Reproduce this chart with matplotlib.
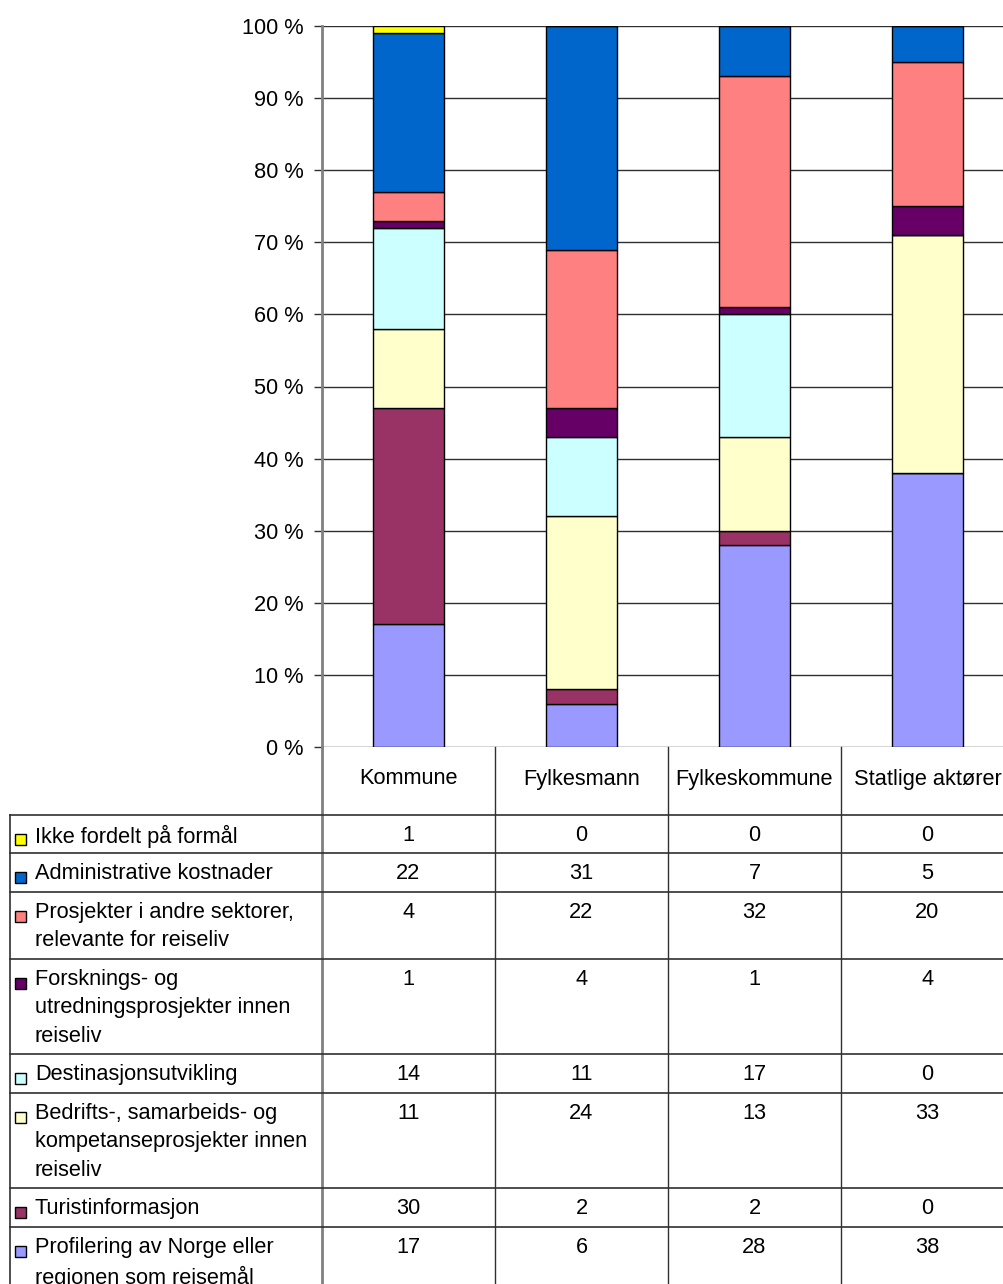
import numpy as np
import matplotlib
matplotlib.use("Agg")
import matplotlib.pyplot as plt
from matplotlib.patches import Rectangle

plt.rcParams["font.family"] = ["Liberation Sans", "DejaVu Sans"]

# Data: percent share per actor, series listed from top of table (top of stack) downwards
categories = ["Kommune", "Fylkesmann", "Fylkeskommune", "Statlige aktører"]
series_labels = [
    "Ikke fordelt på formål",
    "Administrative kostnader",
    "Prosjekter i andre sektorer,\nrelevante for reiseliv",
    "Forsknings- og\nutredningsprosjekter innen\nreiseliv",
    "Destinasjonsutvikling",
    "Bedrifts-, samarbeids- og\nkompetanseprosjekter innen\nreiseliv",
    "Turistinformasjon",
    "Profilering av Norge eller\nregionen som reisemål",
]
ikke_fordelt = [1, 0, 0, 0]
administrative = [22, 31, 7, 5]
prosjekter_andre = [4, 22, 32, 20]
forskning = [1, 4, 1, 4]
destinasjon = [14, 11, 17, 0]
bedrifts = [11, 24, 13, 33]
turistinfo = [30, 2, 2, 0]
profilering = [17, 6, 28, 38]
series_values = [ikke_fordelt, administrative, prosjekter_andre, forskning,
                 destinasjon, bedrifts, turistinfo, profilering]
colors = ["#FFFF00", "#0066CC", "#FF8080", "#660066",
          "#CCFFFF", "#FFFFCC", "#993366", "#9999FF"]

W, H = 1004, 1284
fig = plt.figure(figsize=(W / 100, H / 100), dpi=100)

# pixel layout
PLOT_L, PLOT_T, PLOT_B = 322, 26, 747
COL_W = 173
PLOT_R = PLOT_L + COL_W * len(categories)
FS = 15.7

ax = fig.add_axes([PLOT_L / W, (H - PLOT_B) / H, (PLOT_R - PLOT_L) / W, (PLOT_B - PLOT_T) / H])
x = np.arange(len(categories))
bottom = np.zeros(len(categories))
for vals, col in zip(series_values[::-1], colors[::-1]):
    ax.bar(x, vals, width=0.405, bottom=bottom, color=col, edgecolor="black",
           linewidth=1.0, zorder=3)
    bottom += np.array(vals)
ax.set_xlim(-0.5, len(categories) - 0.5)
ax.set_ylim(0, 100)
ax.set_yticks(np.arange(0, 101, 10))
ax.set_yticklabels([f"{v} %" for v in range(0, 101, 10)], fontsize=FS)
ax.set_xticks([])
ax.yaxis.grid(True, color="#303030", linewidth=1.0, zorder=0)
ax.tick_params(axis="y", length=6, width=1, color="#303030", pad=7)
for side in ["top", "right", "bottom"]:
    ax.spines[side].set_visible(False)
ax.spines["left"].set_color("#808080")
ax.spines["left"].set_linewidth(2)

# data table drawn in pixel coordinates
tab = fig.add_axes([0, 0, 1, 1], zorder=5)
tab.set_xlim(0, W)
tab.set_ylim(H, 0)
tab.axis("off")

TAB_L, HDR_B = 10, 815
LINE_STEP, ROW_1 = 28.6, 38.4

# header
for i, cat in enumerate(categories):
    tab.text(PLOT_L + COL_W * (i + 0.5), 779, cat, ha="center", va="center", fontsize=FS)
tab.plot([PLOT_L, PLOT_L], [PLOT_B, H], color="#808080", linewidth=2)
for i in range(1, len(categories) + 1):
    tab.plot([PLOT_L + COL_W * i] * 2, [PLOT_B, H], color="#303030", linewidth=1)
tab.plot([TAB_L, TAB_L], [HDR_B, H], color="#303030", linewidth=1.2)

y = HDR_B
for label, vals, col in zip(series_labels, series_values, colors):
    nlines = label.count("\n") + 1
    tab.plot([TAB_L, W], [y, y], color="#303030", linewidth=1.2)
    tab.add_patch(Rectangle((15, y + 19), 11, 11, facecolor=col, edgecolor="black", linewidth=1))
    tab.text(35, y + 10, label, ha="left", va="top", fontsize=FS, linespacing=1.47)
    for i, v in enumerate(vals):
        tab.text(PLOT_L + COL_W * (i + 0.5), y + 10, str(v), ha="center", va="top", fontsize=FS)
    y += ROW_1 + LINE_STEP * (nlines - 1)

fig.savefig("out.png", dpi=100)
